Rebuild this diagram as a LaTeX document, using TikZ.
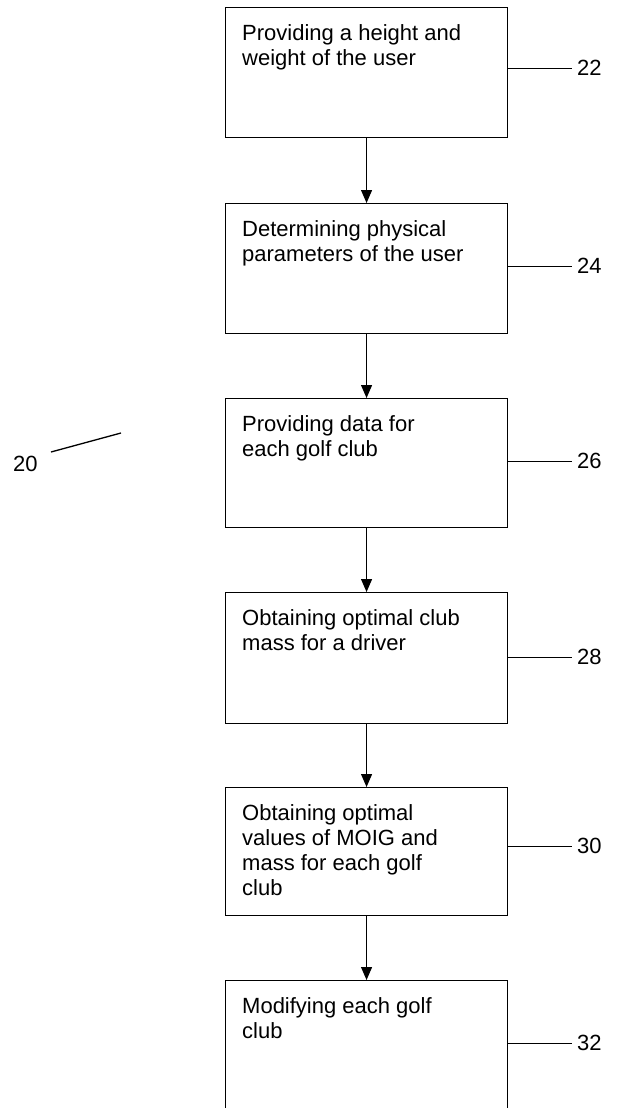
\documentclass[tikz,border=0pt]{standalone}
\usepackage{fontspec}
\setmainfont{Liberation Sans}
\usetikzlibrary{arrows.meta}
\begin{document}
\begin{tikzpicture}[x=1pt,y=-1pt,
  stepbox/.style={draw, line width=1.1pt, minimum width=282pt, anchor=north west, inner sep=0pt},
  steptext/.style={anchor=north west, align=left, inner sep=0pt, font=\fontsize{22}{25}\selectfont},
  ref/.style={anchor=west, inner sep=0pt, font=\fontsize{22}{25}\selectfont},
  leader/.style={line width=0.9pt},
  flow/.style={line width=1.1pt, -{Triangle[length=13pt,width=11pt]}}]
\useasboundingbox (0,0) rectangle (618,1108);
\clip (0,0) rectangle (618,1108);
\node[stepbox, minimum height=130pt] (b1) at (225,7) {};
\node[stepbox, minimum height=130pt] (b2) at (225,203) {};
\node[stepbox, minimum height=129pt] (b3) at (225,398) {};
\node[stepbox, minimum height=131pt] (b4) at (225,592) {};
\node[stepbox, minimum height=128pt] (b5) at (225,787) {};
\node[stepbox, minimum height=150pt] (b6) at (225,980) {};
\node[steptext] (t1) at ([shift={(17,17)}]b1.north west) {Providing a height and\\weight of the user};
\node[steptext] (t2) at ([shift={(17,17)}]b2.north west) {Determining physical\\parameters of the user};
\node[steptext] (t3) at ([shift={(17,17)}]b3.north west) {Providing data for\\each golf club};
\node[steptext] (t4) at ([shift={(17,17)}]b4.north west) {Obtaining optimal club\\mass for a driver};
\node[steptext] (t5) at ([shift={(17,17)}]b5.north west) {Obtaining optimal\\values of MOIG and\\mass for each golf\\club};
\node[steptext] (t6) at ([shift={(17,17)}]b6.north west) {Modifying each golf\\club};
\foreach \a/\b in {b1/b2,b2/b3,b3/b4,b4/b5,b5/b6}
  \draw[flow] (\a.south) -- (\b.north);
\node[ref] (r22) at (577,68) {22};
\node[ref] (r24) at (577,266) {24};
\node[ref] (r26) at (577,461) {26};
\node[ref] (r28) at (577,657) {28};
\node[ref] (r30) at (577,846) {30};
\node[ref] (r32) at (577,1043) {32};
\draw[leader] (b1.east |- r22) -- ([xshift=-5pt]r22.west);
\draw[leader] (b2.east |- r24) -- ([xshift=-5pt]r24.west);
\draw[leader] (b3.east |- r26) -- ([xshift=-5pt]r26.west);
\draw[leader] (b4.east |- r28) -- ([xshift=-5pt]r28.west);
\draw[leader] (b5.east |- r30) -- ([xshift=-5pt]r30.west);
\draw[leader] (b6.east |- r32) -- ([xshift=-5pt]r32.west);
\node[ref] (r20) at (13,464) {20};
\coordinate (l20) at (121,433);
\draw[line width=1.3pt] (51,452) -- (l20);
\end{tikzpicture}
\end{document}
